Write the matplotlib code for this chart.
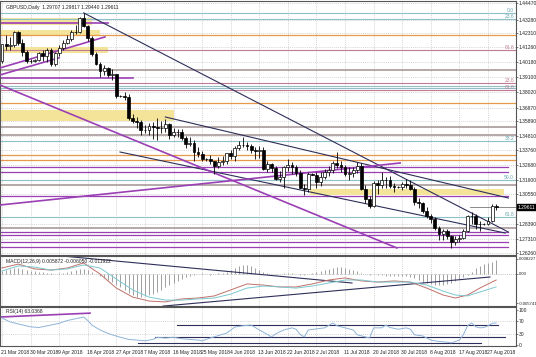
import matplotlib.pyplot as plt
import numpy as np

# ====== GBPUSD Daily ======
opens = [1.4027, 1.4147, 1.4136, 1.4143, 1.4238, 1.4160, 1.4090, 1.4025, 1.4028, 1.4032,
         1.4087, 1.4065, 1.4110, 1.4004, 1.4088, 1.4125, 1.4155, 1.4186, 1.4240, 1.4236,
         1.4337, 1.4285, 1.4191, 1.4077, 1.4007, 1.3951, 1.3974, 1.3927, 1.3930, 1.3774,
         1.3770, 1.3767, 1.3613, 1.3589, 1.3579, 1.3525, 1.3525, 1.3551, 1.3547, 1.3540,
         1.3542, 1.3567, 1.3485, 1.3512, 1.3510, 1.3466, 1.3422, 1.3433, 1.3365, 1.3348,
         1.3312, 1.3310, 1.3296, 1.3262, 1.3293, 1.3296, 1.3355, 1.3335, 1.3393, 1.3417,
         1.3416, 1.3408, 1.3378, 1.3374, 1.3375, 1.3243, 1.3274, 1.3246, 1.3171, 1.3180,
         1.3258, 1.3266, 1.3256, 1.3213, 1.3105, 1.3092, 1.3206, 1.3200, 1.3145, 1.3180,
         1.3222, 1.3232, 1.3284, 1.3267, 1.3255, 1.3207, 1.3213, 1.3236, 1.3259, 1.3097,
         1.3019, 1.2969, 1.3140, 1.3124, 1.3161, 1.3157, 1.3114, 1.3110, 1.3108, 1.3131,
         1.3122, 1.3096, 1.2999, 1.2996, 1.2931, 1.2897, 1.2878, 1.2813, 1.2765, 1.2788,
         1.2754, 1.2707, 1.2733, 1.2738, 1.2790, 1.2898, 1.2899, 1.2836, 1.2839, 1.2840,
         1.2862, 1.2970]
highs = [1.4150, 1.4218, 1.4200, 1.4245, 1.4243, 1.4185, 1.4110, 1.4045, 1.4040, 1.4090,
         1.4104, 1.4122, 1.4120, 1.4095, 1.4140, 1.4177, 1.4215, 1.4250, 1.4292, 1.4345,
         1.4377, 1.4290, 1.4212, 1.4090, 1.4020, 1.3995, 1.3980, 1.3970, 1.3934, 1.3780,
         1.3800, 1.3790, 1.3640, 1.3620, 1.3597, 1.3562, 1.3577, 1.3583, 1.3613, 1.3590,
         1.3607, 1.3578, 1.3542, 1.3535, 1.3530, 1.3480, 1.3472, 1.3455, 1.3397, 1.3370,
         1.3320, 1.3345, 1.3300, 1.3326, 1.3335, 1.3360, 1.3375, 1.3405, 1.3447, 1.3472,
         1.3440, 1.3420, 1.3400, 1.3405, 1.3400, 1.3295, 1.3282, 1.3262, 1.3225, 1.3265,
         1.3315, 1.3290, 1.3270, 1.3235, 1.3130, 1.3215, 1.3212, 1.3215, 1.3218, 1.3240,
         1.3260, 1.3300, 1.3363, 1.3300, 1.3270, 1.3257, 1.3257, 1.3290, 1.3285, 1.3125,
         1.3040, 1.3150, 1.3160, 1.3215, 1.3185, 1.3190, 1.3135, 1.3115, 1.3145, 1.3170,
         1.3160, 1.3110, 1.3030, 1.3000, 1.2960, 1.2910, 1.2890, 1.2825, 1.2800, 1.2800,
         1.2760, 1.2750, 1.2757, 1.2800, 1.2905, 1.2930, 1.2910, 1.2860, 1.2845, 1.2890,
         1.2986, 1.2982]
lows = [1.4010, 1.4105, 1.4110, 1.4128, 1.4140, 1.4060, 1.4015, 1.4010, 1.4020, 1.4025,
        1.4030, 1.4018, 1.3990, 1.3990, 1.4060, 1.4110, 1.4148, 1.4170, 1.4220, 1.4228,
        1.4278, 1.4175, 1.4060, 1.3995, 1.3910, 1.3925, 1.3910, 1.3890, 1.3760, 1.3765,
        1.3740, 1.3595, 1.3575, 1.3540, 1.3485, 1.3500, 1.3490, 1.3460, 1.3450, 1.3505,
        1.3510, 1.3460, 1.3470, 1.3470, 1.3450, 1.3390, 1.3410, 1.3300, 1.3325, 1.3300,
        1.3300, 1.3280, 1.3205, 1.3247, 1.3270, 1.3280, 1.3310, 1.3300, 1.3380, 1.3400,
        1.3380, 1.3360, 1.3310, 1.3320, 1.3230, 1.3220, 1.3220, 1.3160, 1.3145, 1.3100,
        1.3225, 1.3205, 1.3190, 1.3100, 1.3050, 1.3070, 1.3195, 1.3100, 1.3120, 1.3165,
        1.3190, 1.3210, 1.3245, 1.3215, 1.3190, 1.3160, 1.3180, 1.3210, 1.3085, 1.2990,
        1.2957, 1.2960, 1.3060, 1.3100, 1.3105, 1.3100, 1.3070, 1.3100, 1.3085, 1.3105,
        1.3090, 1.2980, 1.2955, 1.2918, 1.2880, 1.2850, 1.2798, 1.2725, 1.2725, 1.2730,
        1.2662, 1.2690, 1.2705, 1.2730, 1.2780, 1.2840, 1.2800, 1.2786, 1.2830, 1.2830,
        1.2855, 1.2944]
closes = [1.4147, 1.4136, 1.4143, 1.4238, 1.4160, 1.4090, 1.4025, 1.4028, 1.4032, 1.4087,
          1.4065, 1.4110, 1.4004, 1.4088, 1.4125, 1.4155, 1.4186, 1.4240, 1.4236, 1.4337,
          1.4285, 1.4191, 1.4077, 1.4007, 1.3951, 1.3974, 1.3927, 1.3930, 1.3774, 1.3770,
          1.3767, 1.3613, 1.3589, 1.3579, 1.3525, 1.3525, 1.3551, 1.3547, 1.3540, 1.3542,
          1.3567, 1.3485, 1.3512, 1.3510, 1.3466, 1.3422, 1.3433, 1.3365, 1.3348, 1.3312,
          1.3310, 1.3296, 1.3262, 1.3293, 1.3296, 1.3355, 1.3335, 1.3393, 1.3417, 1.3416,
          1.3408, 1.3378, 1.3374, 1.3375, 1.3243, 1.3274, 1.3246, 1.3171, 1.3180, 1.3258,
          1.3266, 1.3256, 1.3213, 1.3105, 1.3092, 1.3206, 1.3200, 1.3145, 1.3180, 1.3222,
          1.3232, 1.3284, 1.3267, 1.3255, 1.3207, 1.3213, 1.3236, 1.3259, 1.3097, 1.3019,
          1.2969, 1.3140, 1.3124, 1.3161, 1.3157, 1.3114, 1.3110, 1.3108, 1.3131, 1.3122,
          1.3096, 1.2999, 1.2996, 1.2931, 1.2897, 1.2878, 1.2813, 1.2765, 1.2788, 1.2754,
          1.2707, 1.2733, 1.2738, 1.2790, 1.2898, 1.2899, 1.2836, 1.2839, 1.2840, 1.2862,
          1.2970, 1.2961]

date_labels = ["21 Mar 2018", "30 Mar 2018", "9 Apr 2018", "18 Apr 2018", "27 Apr 2018",
               "7 May 2018", "16 May 2018", "25 May 2018", "4 Jun 2018", "13 Jun 2018",
               "22 Jun 2018", "2 Jul 2018", "11 Jul 2018", "20 Jul 2018", "30 Jul 2018",
               "8 Aug 2018", "17 Aug 2018", "27 Aug 2018"]
price_ticks = [1.44470, 1.43280, 1.42310, 1.41260, 1.40180, 1.39100, 1.38020, 1.36870,
               1.35890, 1.34810, 1.33760, 1.32680, 1.31600, 1.30550, 1.28390, 1.27310, 1.26260]
last_price = 1.29611

# MACD panel (histogram per bar, lines sampled), units of 1e-4
macd_hist = [13, 17, 22, 26, 26, 22, 17, 13, 13, 9,
             9, 4, 4, 0, 4, 4, 9, 13, 17, 22,
             22, 17, 9, 0, -9, -17, -26, -35, -48, -56,
             -69, -82, -91, -100, -100, -95, -91, -87, -78, -69,
             -56, -48, -39, -30, -22, -13, -9, -4, 0, 4,
             0, -4, 0, 4, 4, 9, 17, 26, 35, 39,
             39, 35, 26, 17, 9, 4, 0, -4, 0, 4,
             4, 4, 0, -4, -4, 0, 4, 9, 13, 17,
             22, 26, 30, 30, 26, 22, 17, 13, 4, 0,
             -4, 0, -4, -4, -9, -9, -9, -9, -9, -9,
             -13, -17, -26, -35, -39, -43, -48, -48, -48, -43,
             -39, -30, -22, -13, -4, 9, 26, 35, 43, 48,
             52, 61]
macd_idx = [0, 4, 8, 12, 16, 20, 24, 28, 32, 36, 40, 44, 48, 52, 56, 60, 64, 68, 72,
            76, 80, 84, 88, 92, 96, 100, 104, 108, 111, 114, 117, 121]
macd_main = [26, 43, 22, 17, 26, 48, 0, -61, -100, -117, -121, -108, -104, -95, -69, -43,
             -48, -56, -56, -43, -26, -17, -30, -35, -30, -35, -61, -91, -104, -91, -61, -26]
macd_signal = [13, 35, 30, 17, 22, 39, 26, -22, -69, -100, -113, -113, -108, -104, -87, -61,
               -52, -56, -61, -52, -39, -26, -26, -35, -35, -35, -48, -74, -91, -95, -78, -56]
macd_labels = ["0.008227", "0.00", "-0.005741"]

# RSI panel
rsi_idx = [0, 2, 4, 7, 9, 12, 14, 16, 18, 20, 21, 22, 24, 26, 27, 29, 31, 33, 35, 37,
           38, 40, 42, 44, 46, 48, 49, 51, 53, 55, 57, 59, 61, 63, 65, 66, 67, 69, 71, 72,
           73, 74, 75, 77, 79, 81, 82, 84, 86, 87, 89, 90, 91, 93, 94, 95, 97, 99, 100, 101,
           103, 105, 107, 109, 110, 112, 113, 114, 115, 116, 117, 118, 119, 120, 121]
rsi_val = [77, 66, 60, 52, 50, 57, 62, 70, 75, 80, 70, 57, 43, 33, 29, 22, 16, 14, 12, 16,
           22, 20, 22, 18, 16, 14, 12, 20, 27, 34, 51, 55, 57, 43, 30, 23, 32, 43, 49, 45,
           30, 23, 43, 46, 49, 63, 55, 49, 43, 29, 23, 20, 49, 49, 57, 50, 45, 49, 45, 29,
           26, 14, 10, 8, 6, 14, 30, 55, 63, 52, 49, 50, 55, 62, 63]
rsi_labels = ["100", "70", "30", "0"]

# ====== analysis objects drawn on the chart ======
teal_levels = [1.43742, 1.43327, 1.38469, 1.38279, 1.34441, 1.31601, 1.28906]
teal_tags = ["0.0", "23.6", "", "", "38.2", "50.0", "61.8"]
orange_levels = [1.42161, 1.37187, 1.33421, 1.33057]
mauve_levels = [1.41069, 1.38687, 1.38155]
mauve_tags = ["61.8", "23.6", "61.8"]
grey_levels = [1.39612, 1.35483, 1.34879, 1.31237, 1.28083]
purple_levels = [1.32569, 1.32205, 1.30435, 1.27835, 1.27595, 1.27108, 1.26743]
purple_short = [(1.43040, 26), (1.39040, 32)]       # price, end bar
yellow_zones = [(1.43370, 1.42860, 0, 22), (1.42520, 1.42160, 0, 24),
                (1.41290, 1.40850, 0, 26), (1.36730, 1.35870, 0, 42),
                (1.30940, 1.30500, 76, 123)]
navy_lines = [((20, 1.43770), (124, 1.27810)), ((40, 1.36190), (124, 1.30290)),
              ((28.9, 1.33640), (123.2, 1.27740))]
purple_lines = [((-0.5, 1.38520), (96.7, 1.26650)), ((-0.5, 1.39760), (25.2, 1.42020)),
                ((-0.5, 1.39250), (14.0, 1.40500)), ((-0.5, 1.29780), (97.5, 1.32840))]


def px_x(p):
    return (p - 2) / 4.084


plt.rcParams['font.family'] = ['Liberation Sans', 'DejaVu Sans']
fig = plt.figure(figsize=(5.36, 3.57), dpi=100)
W, H = 536, 357


def rect(top, bottom):
    return [0, (H - bottom) / H, 516 / W, (bottom - top) / H]


ax = fig.add_axes(rect(1, 254.5))
axm = fig.add_axes(rect(255.5, 306))
axr = fig.add_axes(rect(307, 346))

n = len(closes)
x = np.arange(n)
xlim = (px_x(0), px_x(516))
fs = 3.6
grid_kw = dict(color='#c8c8c8', lw=0.5, ls=(0, (1.5, 1.5)))

for a in (ax, axm, axr):
    a.set_xlim(*xlim)
    for i in range(0, n, 7):
        a.axvline(i, zorder=0, **grid_kw)
    a.set_xticks([])
    a.yaxis.tick_right()
    a.tick_params(axis='y', length=1.5, width=0.4, pad=0.5, labelsize=fs, colors='#222222')
    for s in a.spines.values():
        s.set_color('#555555')
        s.set_linewidth(0.8)

# ---- main panel ----
ax.set_ylim(1.26175, 1.44638)
ax.set_yticks(price_ticks)
ax.set_yticklabels([f"{v:.5f}" for v in price_ticks])
for v in price_ticks:
    ax.axhline(v, zorder=0, **grid_kw)

for (top, bot, x0, x1) in yellow_zones:
    ax.fill_between([x0 - 0.5, x1], bot, top, color='#f3e49a', lw=0, zorder=1)

for v in grey_levels:
    ax.axhline(v, color='#a89a9a', lw=1.2, zorder=2)
for v in orange_levels:
    ax.axhline(v, color='#e89a4a', lw=0.9, zorder=2)
for v, t in zip(mauve_levels, mauve_tags):
    ax.axhline(v, color='#c07c96', lw=0.8, zorder=2)
    ax.text(xlim[1] - 0.5, v, t, color='#c07c96', fontsize=fs, ha='right', va='bottom')
for v, t in zip(teal_levels, teal_tags):
    ax.axhline(v, color='#8fc0c8', lw=0.8, zorder=2)
    if t:
        ax.text(xlim[1] - 0.5, v, t, color='#6aa8b0', fontsize=fs, ha='right', va='bottom')
for v in purple_levels:
    ax.plot([xlim[0], px_x(508)], [v, v], color='#9b3fb5', lw=0.9, zorder=2)
for v, x1 in purple_short:
    ax.plot([xlim[0], x1], [v, v], color='#9b3fb5', lw=1.2, zorder=2)

for (p0, p1) in navy_lines:
    ax.plot([p0[0], p1[0]], [p0[1], p1[1]], color='#2e2e5a', lw=0.8, zorder=3)
for (p0, p1) in purple_lines:
    ax.plot([p0[0], p1[0]], [p0[1], p1[1]], color='#9b3fb5', lw=1.2, zorder=3)

# candles
o = np.array(opens); c = np.array(closes)
ax.vlines(x, lows, highs, color='black', lw=0.6, zorder=4)
up = c >= o
ax.bar(x[up], c[up] - o[up], bottom=o[up], width=0.7, color='white',
       edgecolor='black', lw=0.5, zorder=5)
ax.bar(x[~up], o[~up] - c[~up], bottom=c[~up], width=0.7, color='black',
       edgecolor='black', lw=0.5, zorder=5)

ax.axhline(last_price, color='#777777', lw=0.6, zorder=3, xmin=0.91)
ax.text(1.003, last_price, f"{last_price:.5f}", transform=ax.get_yaxis_transform(),
        fontsize=fs, color='white', va='center', ha='left',
        bbox=dict(boxstyle='square,pad=0.12', fc='black', ec='black'))
ax.text(0.012, 0.985, "GBPUSD,Daily  1.29707 1.29817 1.29440 1.29611",
        transform=ax.transAxes, fontsize=fs, va='top', ha='left', color='#222222')

# ---- MACD panel ----
axm.set_ylim(-0.01386, 0.00801)
axm.vlines(x, 0, np.array(macd_hist) * 1e-4, color='#a0a0a0', lw=0.7, zorder=2)
axm.axhline(0, color='#b0b0b0', lw=0.5, ls=(0, (1.5, 1.5)))
axm.plot(macd_idx, np.array(macd_main) * 1e-4, color='#c0706a', lw=0.7, zorder=3)
axm.plot(macd_idx, np.array(macd_signal) * 1e-4, color='#7cc8d0', lw=0.7, zorder=3)
axm.plot([px_x(62), px_x(352)], [0.0078, -0.0039], color='#2e2e5a', lw=0.8)
axm.plot([px_x(163), px_x(490)], [-0.0139, -0.0013], color='#2e2e5a', lw=0.8)
axm.set_yticks([0.0065, 0.0, -0.0126])
axm.set_yticklabels(macd_labels)
axm.tick_params(axis='y', labelsize=3.1)
axm.text(0.012, 0.93, "MACD(12,26,9) 0.005872 -0.006050 -0.011922", transform=axm.transAxes,
         fontsize=fs, va='top', ha='left', color='#222222')

# ---- RSI panel ----
axr.set_ylim(-2.9, 108.6)
axr.set_yticks([100, 70, 30, 0])
axr.set_yticklabels(rsi_labels)
for v in (70, 30):
    axr.axhline(v, zorder=0, **grid_kw)
axr.plot(rsi_idx, rsi_val, color='#8fb4d8', lw=0.7, zorder=3)
axr.plot([px_x(0), px_x(90)], [80, 91], color='#9b3fb5', lw=1.2)
axr.plot([px_x(177), px_x(498)], [57, 57], color='#2e2e5a', lw=0.8)
axr.plot([px_x(155), px_x(505)], [24, 24], color='#2e2e5a', lw=0.8)
axr.plot([px_x(138), px_x(481)], [7, 7], color='#2e2e5a', lw=0.8)
axr.text(0.012, 0.95, "RSI(14) 63.0368", transform=axr.transAxes,
         fontsize=fs, va='top', ha='left', color='#222222')

for i, lab in zip(range(0, n, 7), date_labels):
    axr.text(i - 0.2, -0.1, lab, transform=axr.get_xaxis_transform(), fontsize=fs,
             ha='left', va='top', color='#222222')

fig.savefig("out.png", dpi=100)
